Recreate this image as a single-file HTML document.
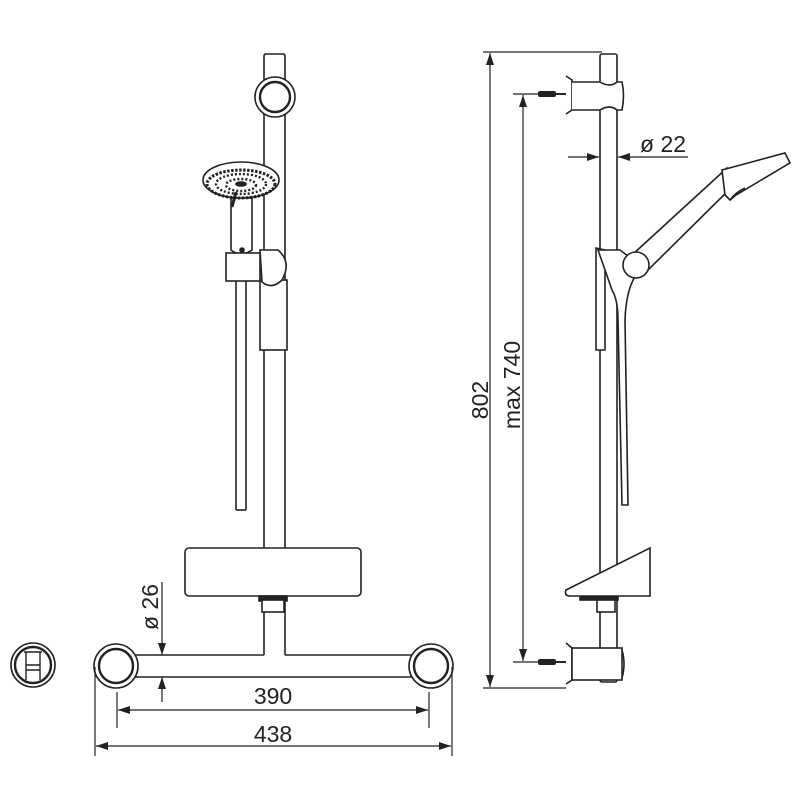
<!DOCTYPE html>
<html><head><style>html,body{margin:0;padding:0;background:#fff}svg{display:block}</style></head>
<body>
<svg width="800" height="800" viewBox="0 0 800 800" xmlns="http://www.w3.org/2000/svg" font-family="Liberation Sans, sans-serif">
<defs>
<marker id="a" markerWidth="12" markerHeight="8" refX="12" refY="4" orient="auto" markerUnits="userSpaceOnUse"><path d="M0,0 L12,4 L0,8 z" fill="#222"/></marker>
</defs>
<g fill="none" stroke="#222" stroke-width="1.6">
<!-- FRONT VIEW -->
<path d="M264,655 L264,56 Q264,54 266,54 L283,54 Q285,54 285,56 L285,655" fill="#fff"/>
<circle cx="275" cy="97" r="20" fill="#fff"/>
<circle cx="275" cy="97" r="15" stroke-width="2.4"/>
<!-- hose -->
<line x1="236" y1="280" x2="236" y2="510"/><line x1="246" y1="280" x2="246" y2="510"/><line x1="236" y1="510" x2="246" y2="510"/>
<!-- slider -->
<rect x="260" y="280" width="27" height="70" fill="#fff"/>
<!-- handle -->
<path d="M231,198 L231,250 Q241,258 252,250 L252,198 z" fill="#fff"/>
<circle cx="242" cy="250" r="2" fill="#222"/>
<rect x="226" y="253" width="34" height="28" fill="#fff"/>
<path d="M260,250 L278,250 Q292,262 282,280 Q272,290 262,282 z" fill="#fff"/>
<!-- showerhead -->
<ellipse cx="241" cy="180" rx="38" ry="18" fill="#fff"/>
<ellipse cx="241" cy="184" rx="34" ry="14" stroke-dasharray="2.5 1.5" stroke-width="3"/>
<ellipse cx="241" cy="184" rx="25" ry="10" stroke-dasharray="2 2" stroke-width="2.4"/>
<ellipse cx="241" cy="185" rx="15" ry="6" stroke-dasharray="2 2" stroke-width="2.4"/>
<ellipse cx="241" cy="184" rx="5" ry="2" fill="#222"/>
<line x1="236" y1="192" x2="232" y2="207" stroke-width="3"/>
<!-- soap dish -->
<rect x="185" y="548" width="176" height="48" rx="4" fill="#fff"/>
<rect x="259" y="596" width="28" height="5" fill="#222"/>
<rect x="262" y="600" width="22" height="12" fill="#fff"/>
<!-- T bar -->
<line x1="125" y1="655" x2="264" y2="655"/><line x1="285" y1="655" x2="420" y2="655"/>
<line x1="125" y1="677" x2="420" y2="677"/>
<circle cx="116" cy="666" r="22" fill="#fff"/><circle cx="116" cy="666" r="17" stroke-width="2.4"/>
<circle cx="431" cy="666" r="22" fill="#fff"/><circle cx="431" cy="666" r="17" stroke-width="2.4"/>
<!-- icon -->
<circle cx="33" cy="665" r="22"/><circle cx="33" cy="665" r="18" stroke-width="2.4"/>
<path d="M24,652 L42,652 M26,652 L26,680 M40,652 L40,680 M26,665 L40,665 M26,670 L40,670" stroke-width="1.4"/>
</g>
<!-- dims front -->
<g stroke="#222" stroke-width="1.2" fill="none">
<line x1="162" y1="582" x2="162" y2="655" marker-end="url(#a)"/>
<line x1="162" y1="702" x2="162" y2="677" marker-end="url(#a)"/>
<line x1="117" y1="692" x2="117" y2="728"/><line x1="429" y1="692" x2="429" y2="728"/>
<line x1="140" y1="710" x2="118" y2="710" marker-end="url(#a)"/><line x1="140" y1="710" x2="428" y2="710" marker-end="url(#a)"/>
<line x1="95" y1="667" x2="95" y2="756"/><line x1="452" y1="667" x2="452" y2="756"/>
<line x1="120" y1="746" x2="96" y2="746" marker-end="url(#a)"/><line x1="120" y1="746" x2="451" y2="746" marker-end="url(#a)"/>
</g>
<g fill="#222" font-size="23">
<text x="273" y="704" text-anchor="middle">390</text>
<text x="273" y="742" text-anchor="middle">438</text>
<text transform="translate(158,607) rotate(-90)" text-anchor="middle">ø 26</text>
</g>
<!-- SIDE VIEW -->
<g fill="none" stroke="#222" stroke-width="1.6">
<rect x="600" y="54" width="17" height="628" rx="2" fill="#fff"/>
<!-- top bracket -->
<path d="M566,76 L572,80 L572,110 L566,114" />
<path d="M572,82 L600,82 Q610,88 617,82 L622,82 Q625,95 622,110 L617,110 Q610,104 600,110 L572,110" fill="#fff"/>
<!-- bottom bracket -->
<path d="M566,643 L572,648 L572,680 L566,684"/>
<rect x="572" y="648" width="50" height="32" fill="#fff"/>
<path d="M622,650 Q626,664 622,678"/>
<!-- holder -->
<path d="M596,248 L605,250 L605,350 L596,350 z" fill="#fff"/>
<path d="M598,250 L620,250 L636,262 L636,275 Q626,290 625,320 L628,505 L622,505 L618,320 Q618,300 612,290 z" fill="#fff"/>
<!-- handle -->
<path d="M632,255 L727,168 L737,182 L648,270 z" fill="#fff"/>
<path d="M722,170 L785,153 L790,163 L736,195 L730,200 L725,195 z" fill="#fff"/>
<path d="M730,200 Q736,192 745,188" />
<circle cx="636" cy="265" r="13" fill="#fff"/>
<!-- soap dish -->
<path d="M566,590 L650,548 L650,596 L570,596 Q564,596 566,590 z" fill="#fff"/>
<rect x="580" y="597" width="38" height="3" fill="#222"/>
<rect x="597" y="600" width="18" height="12" fill="#fff"/>
</g>
<g stroke="#222" stroke-width="1.2" fill="none">
<line x1="483" y1="52" x2="602" y2="52"/><line x1="483" y1="688" x2="566" y2="688"/>
<line x1="490" y1="370" x2="490" y2="53" marker-end="url(#a)"/><line x1="490" y1="370" x2="490" y2="687" marker-end="url(#a)"/>
<line x1="513" y1="94" x2="538" y2="94"/><line x1="513" y1="662" x2="538" y2="662"/>
<line x1="523" y1="380" x2="523" y2="95" marker-end="url(#a)"/><line x1="523" y1="380" x2="523" y2="661" marker-end="url(#a)"/>
<line x1="568" y1="157" x2="599" y2="157" marker-end="url(#a)"/><line x1="688" y1="157" x2="618" y2="157" marker-end="url(#a)"/>
</g>
<g fill="#222">
<rect x="538" y="91" width="18" height="6" rx="2"/><rect x="556" y="93" width="10" height="2"/>
<rect x="538" y="659" width="18" height="6" rx="2"/><rect x="556" y="661" width="10" height="2"/>
</g>
<g fill="#222" font-size="23">
<text x="640" y="152">ø 22</text>
<text transform="translate(488,400) rotate(-90)" text-anchor="middle">802</text>
<text transform="translate(520,385) rotate(-90)" text-anchor="middle">max 740</text>
</g>
</svg>
</body></html>
